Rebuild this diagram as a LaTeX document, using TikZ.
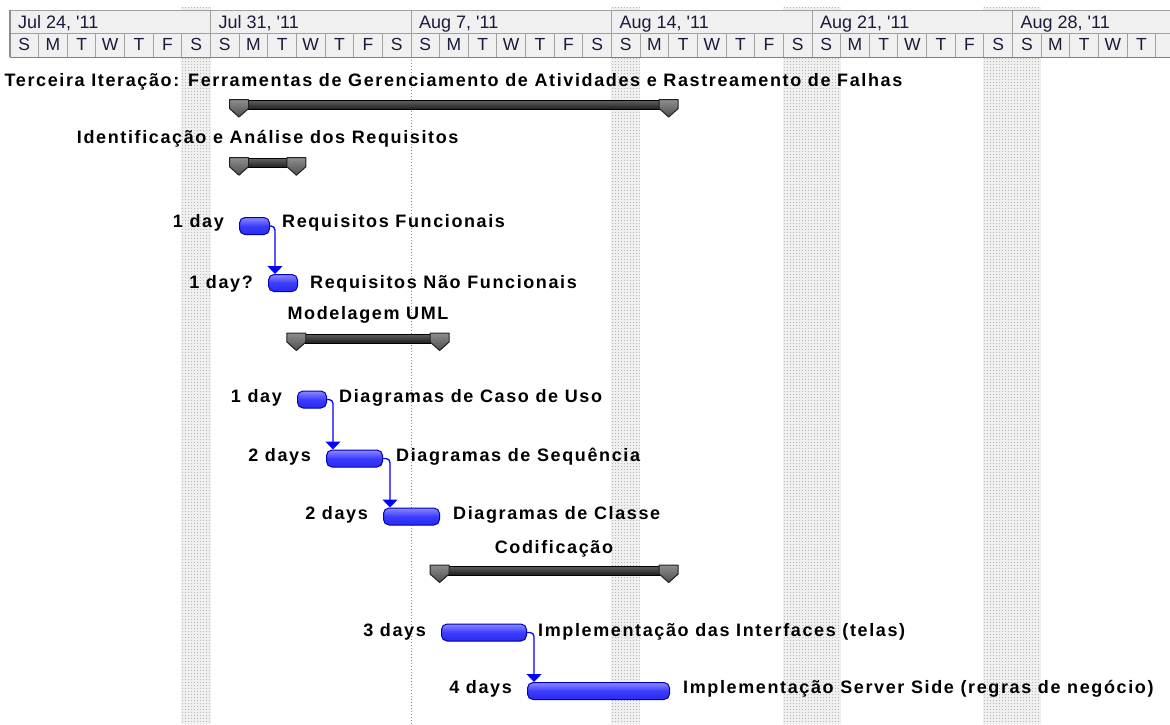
\documentclass[tikz,border=0pt]{standalone}
\usepackage{fontspec}
\setmainfont{Liberation Sans}
\newfontfamily\labelfont[LetterSpace=9]{Liberation Sans}
\newfontfamily\headfont[Ligatures=TeXOff]{Liberation Sans}
\usetikzlibrary{arrows.meta}

\definecolor{hdrbg}{HTML}{F0F0F0}
\definecolor{hdrline}{HTML}{A0A0A0}
\definecolor{hdrtext}{HTML}{1A1A3A}
\definecolor{barmid}{HTML}{3C3CFF}
\definecolor{bartop}{HTML}{8A8AFF}
\definecolor{barbot}{HTML}{2A2AF0}
\definecolor{baredge}{HTML}{0000B4}
\definecolor{linkblue}{HTML}{0000FF}
\definecolor{offday}{HTML}{EFEFEF}
\definecolor{offdot}{HTML}{B8B8B8}
\definecolor{sumlight}{HTML}{5E5E5E}
\definecolor{sumdark}{HTML}{1E1E1E}
\definecolor{marklight}{HTML}{8E8E8E}
\definecolor{markdark}{HTML}{4E4E4E}

\tikzset{
  tasklabel/.style={inner sep=0pt, text=black,
    font=\labelfont\bfseries\fontsize{18}{20}\selectfont},
  weektext/.style={inner sep=0pt, text=hdrtext, anchor=base west,
    font=\headfont\fontsize{18}{20}\selectfont},
  daytext/.style={inner sep=0pt, text=hdrtext, anchor=base,
    font=\headfont\fontsize{17.5}{20}\selectfont},
  hdrrule/.style={draw=hdrline, line width=1pt},
  offdots/.style={draw=offdot, line width=0.8pt, dash pattern=on 1pt off 2pt},
  taskbar/.style={draw=baredge, line width=1pt, rounded corners=5.5pt,
    top color=bartop, bottom color=barbot, middle color=barmid,
    inner sep=0pt, minimum height=17pt, anchor=north west},
  dep/.style={draw=linkblue, line width=1.3pt, rounded corners=4pt,
    -{Triangle[width=15pt,length=8pt]}},
  sumbody/.style={draw=black, line width=1pt, top color=sumlight, bottom color=sumdark},
  summark/.style={draw=black!88, line width=1pt, line join=round,
    top color=marklight, bottom color=markdark},
}

% summary bar: start tip x, end tip x, top y
\newcommand\summarybar[3]{%
  \path[sumbody] (#1,#3+1) rectangle (#2,#3+10);
  \path[summark] (#1-9.5,#3) -- (#1+9.5,#3) -- (#1+9.5,#3+9) -- (#1,#3+17.5)
    -- (#1-9.5,#3+9) -- cycle;
  \path[summark] (#2-9.5,#3) -- (#2+9.5,#3) -- (#2+9.5,#3+9) -- (#2,#3+17.5)
    -- (#2-9.5,#3+9) -- cycle;
}

\begin{document}
\begin{tikzpicture}[x=1pt, y=-1pt]
\useasboundingbox (0,0) rectangle (1170,724);
\clip (0,0) rectangle (1170,724);

% non-working time columns
\foreach \xa/\xb in {181/211, 611/640, 783/841, 983/1041}{
  \fill[offday] (\xa,7) rectangle (\xb,724);
  \foreach \k in {0,...,19}{
    \pgfmathsetmacro\xx{\xa+1.5+3*\k}
    \ifdim\xx pt<\xb pt \draw[offdots] (\xx,7) -- (\xx,724); \fi
  }
}
\draw[offdots, draw=black!45] (411,57) -- (411,724);

% timescale header
\fill[hdrbg] (10,10) rectangle (1170,57);
\draw[hdrrule] (10,10) -- (1170,10);
\draw[hdrrule] (10,33) -- (1170,33);
\draw[draw=black!50, line width=1pt] (10,57) -- (1170,57);
\draw[draw=black!45, line width=1.4pt] (10,10) -- (10,57);
\foreach \i in {1,...,40}{
  \pgfmathsetmacro\sx{10+28.643*\i}
  \draw[hdrrule] (\sx,33) -- (\sx,57);
}
\foreach \w in {1,...,5}{
  \pgfmathsetmacro\sx{10+200.5*\w}
  \draw[hdrrule] (\sx,10) -- (\sx,33);
}
\foreach \wk/\w in {{Jul 24}/0, {Jul 31}/1, {Aug 7}/2, {Aug 14}/3, {Aug 21}/4, {Aug 28}/5}{
  \pgfmathsetmacro\wx{10+200.5*\w+8}
  \node[weektext] (wk-\w) at (\wx,28) {\wk, '11};
}
\foreach \w in {0,...,5}{
  \foreach \L [count=\k from 0] in {S,M,T,W,T,F,S}{
    \pgfmathsetmacro\cx{10+28.643*(7*\w+\k)+14.32}
    \ifdim\cx pt<1150pt \node[daytext] (day-\w-\k) at (\cx,50) {\L}; \fi
  }
}

% summary tasks
\summarybar{239}{668.7}{99.5}
\node[tasklabel, anchor=base] (sum1) at (453.5,86.7)
  {Terceira Iteração: Ferramentas de Gerenciamento de Atividades e Rastreamento de Falhas};
\summarybar{239}{296.4}{157.7}
\node[tasklabel, anchor=base] (sum2) at (267.7,143.3) {Identificação e Análise dos Requisitos};
\summarybar{296.4}{439.6}{333}
\node[tasklabel, anchor=base] (sum3) at (368,319.8) {Modelagem UML};
\summarybar{439.6}{668.7}{565}
\node[tasklabel, anchor=base] (sum4) at (554,553.3) {Codificação};

% task bars
\node[taskbar, minimum width=30pt] (b1) at (239,217) {};
\node[taskbar, minimum width=29pt] (b2) at (268,274) {};
\node[taskbar, minimum width=29pt] (b3) at (297,390.5) {};
\node[taskbar, minimum width=56pt] (b4) at (326,449.5) {};
\node[taskbar, minimum width=56pt] (b5) at (383,507.5) {};
\node[taskbar, minimum width=85pt] (b6) at (441,623.5) {};
\node[taskbar, minimum width=142pt] (b7) at (527,682) {};

% durations
\node[tasklabel, anchor=base east] (d1) at (224,227.3) {1 day};
\node[tasklabel, anchor=base east] (d2) at (253,288.3) {1 day?};
\node[tasklabel, anchor=base east] (d3) at (282,402.7) {1 day};
\node[tasklabel, anchor=base east] (d4) at (311,461.7) {2 days};
\node[tasklabel, anchor=base east] (d5) at (368,519.3) {2 days};
\node[tasklabel, anchor=base east] (d6) at (426,636) {3 days};
\node[tasklabel, anchor=base east] (d7) at (512,693.3) {4 days};

% task names
\node[tasklabel, anchor=base west] (n1) at (282,227.3) {Requisitos Funcionais};
\node[tasklabel, anchor=base west] (n2) at (310,288.3) {Requisitos Não Funcionais};
\node[tasklabel, anchor=base west] (n3) at (339,402.7) {Diagramas de Caso de Uso};
\node[tasklabel, anchor=base west] (n4) at (396,461.7) {Diagramas de Sequência};
\node[tasklabel, anchor=base west] (n5) at (453,519.3) {Diagramas de Classe};
\node[tasklabel, anchor=base west] (n6) at (538,636) {Implementação das Interfaces (telas)};
\node[tasklabel, anchor=base west] (n7) at (683,693.3) {Implementação Server Side (regras de negócio)};

% finish-to-start links
\draw[dep] (b1.east) -| ([xshift=7pt]b2.north west);
\draw[dep] (b3.east) -| ([xshift=7pt]b4.north west);
\draw[dep] (b4.east) -| ([xshift=7pt]b5.north west);
\draw[dep] (b6.east) -| ([xshift=7pt]b7.north west);
\end{tikzpicture}
\end{document}
